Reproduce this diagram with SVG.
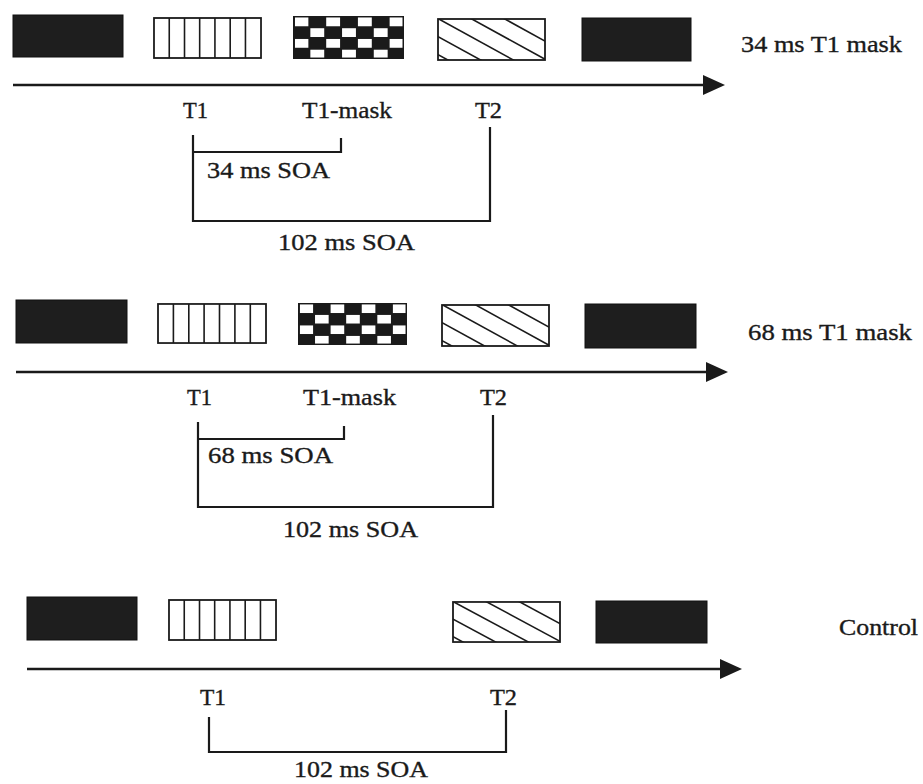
<svg xmlns="http://www.w3.org/2000/svg" xmlns:xlink="http://www.w3.org/1999/xlink" width="923" height="784" viewBox="0 0 923 784">
<style>
text{font-family:"Liberation Serif","Times New Roman",serif;font-size:23px;fill:#1a1a1a;stroke:#1a1a1a;stroke-width:0.35}
.blk{fill:#1e1e1e;stroke:#111;stroke-width:1}
.axis{stroke:#1a1a1a;stroke-width:2.6;fill:none}
.br{stroke:#1a1a1a;stroke-width:2.2;fill:none}
</style>
<defs>
<marker id="ah" markerUnits="userSpaceOnUse" markerWidth="24" markerHeight="22" refX="10" refY="10" orient="auto" overflow="visible">
<path d="M0,0 L22,10 L0,20 Z" fill="#1a1a1a"/>
</marker>
<symbol id="stripes" viewBox="0 0 110 42" preserveAspectRatio="none">
<rect x="1" y="1" width="108" height="40" fill="#fff" stroke="#1a1a1a" stroke-width="1.8"/>
<path d="M16.4,1V41M31.8,1V41M47.1,1V41M62.5,1V41M77.9,1V41M93.3,1V41" stroke="#1a1a1a" stroke-width="1.6"/>
</symbol>
<symbol id="checker" viewBox="0 0 112 44" preserveAspectRatio="none">
<rect x="0" y="0" width="112" height="44" fill="#1a1a1a"/>
<g fill="#fff">
<rect x="2" y="1.5" width="13.5" height="9"/><rect x="33.5" y="1.5" width="14" height="9"/><rect x="65.5" y="1.5" width="14" height="9"/><rect x="97.5" y="1.5" width="13" height="9"/>
<rect x="17.5" y="12.5" width="14" height="9"/><rect x="49.5" y="12.5" width="14" height="9"/><rect x="81.5" y="12.5" width="14" height="9"/>
<rect x="2" y="23.5" width="13.5" height="9"/><rect x="33.5" y="23.5" width="14" height="9"/><rect x="65.5" y="23.5" width="14" height="9"/><rect x="97.5" y="23.5" width="13" height="9"/>
<rect x="17.5" y="34.5" width="14" height="8"/><rect x="49.5" y="34.5" width="14" height="8"/><rect x="81.5" y="34.5" width="14" height="8"/>
</g>
</symbol>
<clipPath id="dclip"><rect x="1" y="1" width="107" height="41"/></clipPath>
<symbol id="diag" viewBox="0 0 109 43" preserveAspectRatio="none">
<rect x="1" y="1" width="107" height="41" fill="#fff" stroke="#1a1a1a" stroke-width="1.8"/>
<g clip-path="url(#dclip)" stroke="#1a1a1a" stroke-width="1.6">
<line x1="0" y1="0" x2="80" y2="44"/>
<line x1="33" y1="0" x2="113" y2="44"/>
<line x1="66" y1="0" x2="146" y2="44"/>
<line x1="0" y1="18" x2="80" y2="62"/>
<line x1="0" y1="36" x2="80" y2="80"/>
</g>
</symbol>
</defs>

<g id="row1">
<g id="r1-black1"><rect class="blk" x="13" y="15" width="110" height="42"/></g>
<g id="r1-t1"><use xlink:href="#stripes" href="#stripes" x="153" y="17" width="109" height="42"/></g>
<g id="r1-mask"><use xlink:href="#checker" href="#checker" x="293" y="16" width="111" height="43"/></g>
<g id="r1-t2"><use xlink:href="#diag" href="#diag" x="437" y="18" width="109" height="43"/></g>
<g id="r1-black2"><rect class="blk" x="582" y="18" width="109" height="43"/></g>
<g id="r1-title"><text x="741" y="52" textLength="161" lengthAdjust="spacingAndGlyphs">34 ms T1 mask</text></g>
<g id="r1-labels">
<text x="183" y="118" textLength="25" lengthAdjust="spacingAndGlyphs">T1</text>
<text x="302" y="118" textLength="90" lengthAdjust="spacingAndGlyphs">T1-mask</text>
<text x="475" y="118" textLength="27" lengthAdjust="spacingAndGlyphs">T2</text>
<text x="207" y="178" textLength="123" lengthAdjust="spacingAndGlyphs">34 ms SOA</text>
<text x="278" y="250" textLength="137" lengthAdjust="spacingAndGlyphs">102 ms SOA</text>
</g>
</g>

<g id="row2">
<g id="r2-black1"><rect class="blk" x="16" y="300" width="111" height="43"/></g>
<g id="r2-t1"><use xlink:href="#stripes" href="#stripes" x="157" y="303" width="110" height="41"/></g>
<g id="r2-mask"><use xlink:href="#checker" href="#checker" x="298" y="303" width="109" height="42"/></g>
<g id="r2-t2"><use xlink:href="#diag" href="#diag" x="441" y="304" width="109" height="43"/></g>
<g id="r2-black2"><rect class="blk" x="585" y="304" width="111" height="44"/></g>
<g id="r2-title"><text x="748" y="340" textLength="164" lengthAdjust="spacingAndGlyphs">68 ms T1 mask</text></g>
<g id="r2-labels">
<text x="187" y="405" textLength="25" lengthAdjust="spacingAndGlyphs">T1</text>
<text x="303" y="405" textLength="93" lengthAdjust="spacingAndGlyphs">T1-mask</text>
<text x="480" y="405" textLength="27" lengthAdjust="spacingAndGlyphs">T2</text>
<text x="208" y="463" textLength="125" lengthAdjust="spacingAndGlyphs">68 ms SOA</text>
<text x="283" y="537" textLength="135" lengthAdjust="spacingAndGlyphs">102 ms SOA</text>
</g>
</g>

<g id="row3">
<g id="r3-black1"><rect class="blk" x="27" y="597" width="110" height="43"/></g>
<g id="r3-t1"><use xlink:href="#stripes" href="#stripes" x="168" y="599" width="109" height="42"/></g>
<g id="r3-t2"><use xlink:href="#diag" href="#diag" x="452" y="601" width="109" height="42"/></g>
<g id="r3-black2"><rect class="blk" x="596" y="601" width="111" height="42"/></g>
<g id="r3-title"><text x="839" y="635" textLength="79" lengthAdjust="spacingAndGlyphs">Control</text></g>
<g id="r3-labels">
<text x="200" y="705" textLength="26" lengthAdjust="spacingAndGlyphs">T1</text>
<text x="490" y="705" textLength="27" lengthAdjust="spacingAndGlyphs">T2</text>
<text x="294" y="777" textLength="134" lengthAdjust="spacingAndGlyphs">102 ms SOA</text>
</g>
</g>

<g id="connectors">
<line class="axis" x1="13" y1="85" x2="713" y2="85" marker-end="url(#ah)"/>
<line class="axis" x1="16" y1="372" x2="716" y2="372" marker-end="url(#ah)"/>
<line class="axis" x1="27" y1="669" x2="730" y2="669" marker-end="url(#ah)"/>
<path class="br" d="M193,135V221H490V127"/>
<path class="br" d="M193,152H341V138"/>
<path class="br" d="M198,422V507H493V415"/>
<path class="br" d="M198,439H344V426"/>
<path class="br" d="M209,717V752H506V710"/>
</g>
</svg>
